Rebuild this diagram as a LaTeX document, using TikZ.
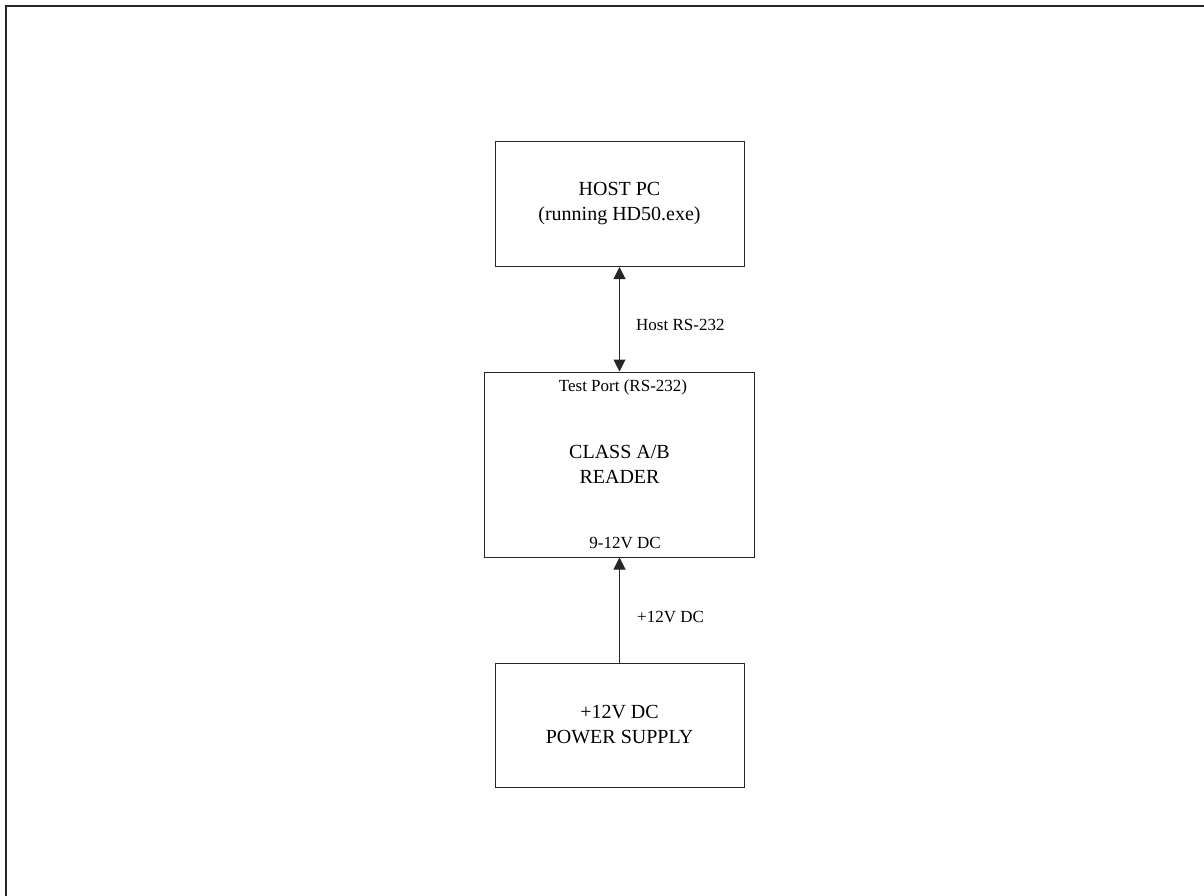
\documentclass[tikz,border=0pt]{standalone}
\usepackage{fontspec}
\setmainfont{Liberation Serif}
\usetikzlibrary{arrows.meta}
\begin{document}
\begin{tikzpicture}[x=1pt,y=-1pt,
  blk/.style={draw=black!85,line width=1pt,minimum width=249pt,align=center,inner sep=0pt,font=\fontsize{20}{25}\selectfont},
  lbl/.style={inner sep=0pt,font=\fontsize{17}{20}\selectfont},
  conn/.style={line width=1pt,draw=black!85,{Triangle[width=12pt,length=12pt]}-{Triangle[width=12pt,length=12pt]}},
  upconn/.style={line width=1pt,draw=black!85,-{Triangle[width=12pt,length=12pt]}}]
\useasboundingbox (0,0) rectangle (1204,896);
\draw[line width=2pt,black!85] (6,896) -- (6,6) -- (1204,6);
\node[blk,minimum height=125pt] (host) at (619.5,204) {HOST PC\\(running HD50.exe)};
\node[blk,minimum width=270pt,minimum height=185pt] (reader) at (619.5,464.5) {CLASS A/B\\READER};
\node[blk,minimum height=124pt] (psu) at (619.5,725) {+12V DC\\POWER SUPPLY};
\node[lbl] (tp) at (623,387) {Test Port (RS-232)};
\node[lbl] (dc) at (625,543) {9-12V DC};
\draw[conn] (host.south) -- (reader.north) coordinate[pos=0.5] (m1);
\node[lbl,anchor=west] (hl) at (636,325) {Host RS-232};
\draw[upconn] (psu.north) -- (reader.south);
\node[lbl,anchor=west] (pl) at (637,617) {+12V DC};
\end{tikzpicture}
\end{document}
